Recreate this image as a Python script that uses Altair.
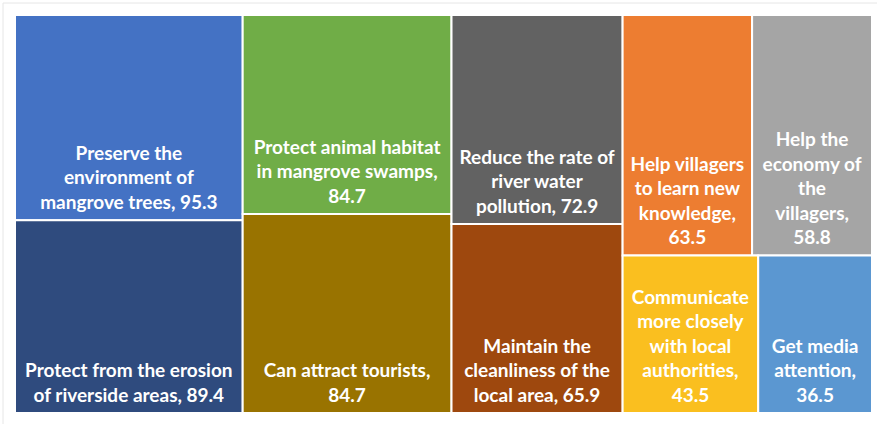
import altair as alt
import pandas as pd

# ---------------- data ----------------
categories = [
    "Preserve the environment of mangrove trees",
    "Protect from the erosion of riverside areas",
    "Protect animal habitat in mangrove swamps",
    "Can attract tourists",
    "Reduce the rate of river water pollution",
    "Maintain the cleanliness of the local area",
    "Help villagers to learn new knowledge",
    "Help the economy of the villagers",
    "Communicate more closely with local authorities",
    "Get media attention",
]
values = [95.3, 89.4, 84.7, 84.7, 72.9, 65.9, 63.5, 58.8, 43.5, 36.5]
label_lines = [
    ["Preserve the", "environment of", "mangrove trees,"],
    ["Protect from the erosion", "of riverside areas,"],
    ["Protect animal habitat", "in mangrove swamps,"],
    ["Can attract tourists,"],
    ["Reduce the rate of", "river water", "pollution,"],
    ["Maintain the", "cleanliness of the", "local area,"],
    ["Help villagers", "to learn new", "knowledge,"],
    ["Help the", "economy of", "the", "villagers,"],
    ["Communicate", "more closely", "with local", "authorities,"],
    ["Get media", "attention,"],
]
value_own_line = [False, False, True, True, False, False, True, True, True, True]
colors = [
    "#4472C4", "#2F4B7E", "#70AD47", "#997300", "#626262",
    "#9E480E", "#ED7D31", "#A5A5A5", "#FABF1F", "#5B97D1",
]

W, H = 857, 398  # plot area size
LINE_H = 24.5


# ---------------- squarified treemap layout ----------------
def worst(row, side):
    s = sum(row)
    return max(max(side * side * r / (s * s), s * s / (side * side * r)) for r in row)


def squarify(vals, x, y, dx, dy):
    rects = []
    vals = list(vals)
    while vals:
        side = min(dx, dy)
        row = [vals[0]]
        i = 1
        while i < len(vals) and worst(row + [vals[i]], side) <= worst(row, side) * 1.01:
            row.append(vals[i])
            i += 1
        vals = vals[i:]
        s = sum(row)
        if dx >= dy:
            cw = s / dy
            yy = y
            for r in row:
                h = r / cw
                rects.append((x, yy, x + cw, yy + h))
                yy += h
            x += cw
            dx -= cw
        else:
            rh = s / dx
            xx = x
            for r in row:
                w = r / rh
                rects.append((xx, y, xx + w, y + rh))
                xx += w
            y += rh
            dy -= rh
    return rects


scale = W * H / sum(values)
rects = squarify([v * scale for v in values], 0, 0, W, H)

labels = []
nlines = []
for lines, v, own in zip(label_lines, values, value_own_line):
    if own:
        full = lines + [f"{v}"]
    else:
        full = lines[:-1] + [lines[-1] + f" {v}"]
    labels.append("\n".join(full))
    nlines.append(len(full))

df = pd.DataFrame({
    "category": categories,
    "value": values,
    "label": labels,
    "n": nlines,
    "x0": [r[0] for r in rects],
    "y0": [r[1] for r in rects],
    "x1": [r[2] for r in rects],
    "y1": [r[3] for r in rects],
})

xs = alt.Scale(domain=[0, W], nice=False, zero=False)
ys = alt.Scale(domain=[0, H], nice=False, zero=False, reverse=True)

base = alt.Chart(df)

tiles = base.mark_rect(stroke="white", strokeWidth=2).encode(
    x=alt.X("x0:Q", scale=xs, axis=None),
    x2="x1:Q",
    y=alt.Y("y0:Q", scale=ys, axis=None),
    y2="y1:Q",
    color=alt.Color("category:N", scale=alt.Scale(domain=categories, range=colors), legend=None),
)

texts = base.transform_calculate(
    xc="(datum.x0 + datum.x1) / 2",
    ty=f"datum.y1 - (datum.n - 1) * {LINE_H}",
).mark_text(
    color="white", font="Lato", fontWeight="bold", fontSize=19,
    lineBreak="\n", lineHeight=LINE_H, baseline="alphabetic", align="center", dy=-11.5,
).encode(
    x=alt.X("xc:Q", scale=xs, axis=None),
    y=alt.Y("ty:Q", scale=ys, axis=None),
    text="label:N",
)

border = alt.Chart(pd.DataFrame({"a": [0]})).mark_rect(
    fill="transparent", stroke="#e6e6e6", strokeWidth=1
).encode(
    x=alt.value(-12), x2=alt.value(W + 30), y=alt.value(-12), y2=alt.value(H + 30)
)

chart = alt.layer(border, tiles, texts).properties(
    width=W, height=H,
    padding={"left": 15, "top": 15, "right": 5, "bottom": 11},
    autosize=alt.AutoSizeParams(type="none"),
    background="white",
).configure_view(strokeWidth=0)

chart.save("out.html", embed_options={"renderer": "svg", "actions": False})
